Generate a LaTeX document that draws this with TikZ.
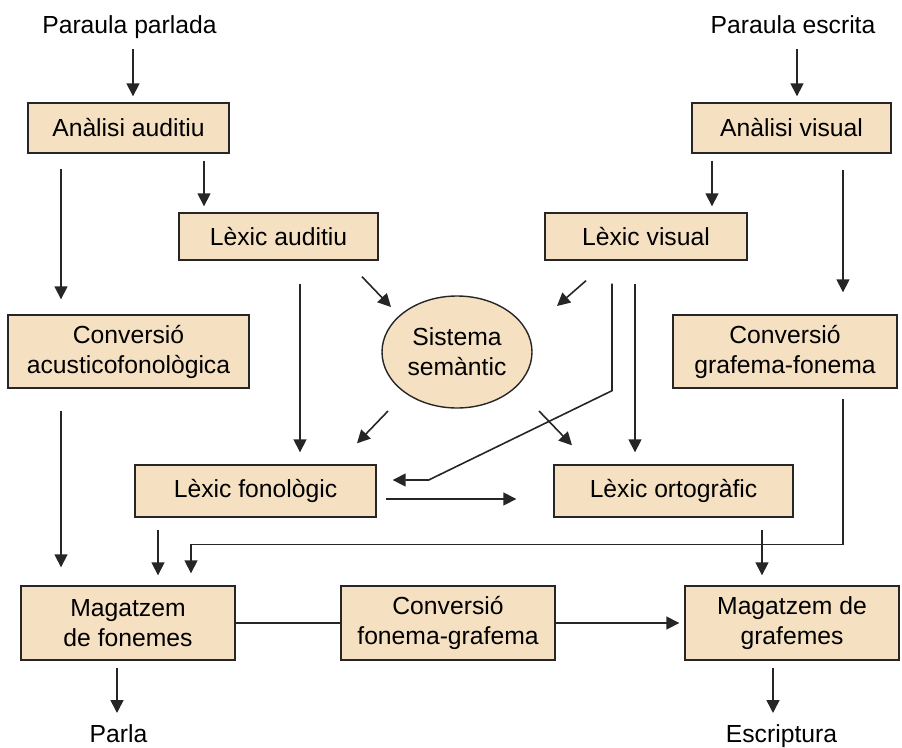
\documentclass[tikz,border=0pt]{standalone}
\usepackage{fontspec}
\setmainfont{Liberation Sans}
\usetikzlibrary{arrows.meta,calc,shapes.geometric}
\definecolor{boxfill}{HTML}{F5E1C2}
\definecolor{ink}{HTML}{262626}
\begin{document}
\begin{tikzpicture}[x=1pt,y=-1pt,
  font=\fontsize{24.7}{30}\selectfont,
  box/.style={draw=ink, line width=1.4pt, fill=boxfill, rectangle, inner sep=0pt, align=center},
  oval/.style={draw=ink, line width=1.4pt, fill=boxfill, ellipse, inner sep=0pt, align=center},
  arr/.style={draw=ink, line width=1.6pt, -{Triangle[length=13pt,width=13pt]}},
  ln/.style={draw=ink, line width=1.6pt},
  lbl/.style={anchor=base, inner sep=0pt}]
\useasboundingbox (0,0) rectangle (902,747);

% texts
\node[lbl] (pp) at (129.5,33) {Paraula parlada};
\node[lbl] (pe) at (793,33) {Paraula escrita};
\node[lbl] (parla) at (118.5,742) {Parla};
\node[lbl] (escr) at (781.5,742) {Escriptura};

% boxes
\node[box, minimum width=201pt, minimum height=50pt] (aa) at (128.5,128) {Anàlisi auditiu};
\node[box, minimum width=199pt, minimum height=50pt] (av) at (791.5,128) {Anàlisi visual};
\node[box, minimum width=199pt, minimum height=47pt] (la) at (278.5,236.5) {Lèxic auditiu};
\node[box, minimum width=202pt, minimum height=47pt] (lv) at (646,236.5) {Lèxic visual};
\node[box, minimum width=241pt, minimum height=73pt] (cac) at (128.5,351.5) {Conversió\\acusticofonològica};
\node[box, minimum width=224pt, minimum height=73pt] (cgf) at (785,351.5) {Conversió\\grafema-fonema};
\node[oval, minimum width=150pt, minimum height=112pt] (ss) at (457,352) {Sistema\\semàntic};
\node[box, minimum width=241pt, minimum height=52pt] (lf) at (255.5,491) {Lèxic fonològic};
\node[box, minimum width=239pt, minimum height=52pt] (lo) at (673.5,491) {Lèxic ortogràfic};
\node[box, minimum width=214pt, minimum height=74pt] (mf) at (128,623) {Magatzem\\de fonemes};
\node[box, minimum width=214pt, minimum height=74pt] (cfg) at (448,623) {Conversió\\fonema-grafema};
\node[box, minimum width=214pt, minimum height=74pt] (mg) at (792,623) {Magatzem de\\grafemes};

% connectors
\draw[arr] ($(pp.base)+(3.5,16)$) -- ($(aa.north)+(4.5,-6)$);
\draw[arr] ($(aa.south)+(75.5,7)$) -- ($(la.north)+(-74.5,-6)$);
\draw[arr] ($(aa.south)+(-67.5,15)$) -- ($(cac.north)+(-67.5,-15)$);
\draw[arr] ($(pe.base)+(4,16)$) -- ($(av.north)+(5.5,-6)$);
\draw[arr] ($(av.south)+(-79.5,7)$) -- ($(lv.north)+(66,-6)$);
\draw[arr] ($(av.south)+(51.5,16)$) -- ($(cgf.north)+(58,-22)$);
\draw[arr] ($(la.south)+(83.5,16)$) -- ($(ss.center)+(-66,-45)$);
\draw[arr] ($(lv.south)+(-60,20)$) -- ($(ss.center)+(100,-46)$);
\draw[arr] ($(ss.center)+(-69,59)$) -- ($(lf.north)+(101.5,-21)$);
\draw[arr] ($(ss.center)+(82,59)$) -- ($(lo.north)+(-101.5,-19)$);
\draw[arr] ($(la.south)+(21.5,23)$) -- ($(lf.north)+(44.5,-12)$);
\draw[arr] ($(lv.south)+(-34,23)$) -- ($(lv.south)+(-34,130)$) -- ($(lf.east)+(52,-11)$) -- ($(lf.east)+(16,-11)$);
\draw[arr] ($(lv.south)+(-11,23)$) -- ($(lo.north)+(-38.5,-12)$);
\draw[arr] ($(lf.east)+(9,8)$) -- ($(lo.west)+(-37,8)$);
\draw[arr] ($(cac.south)+(-67.5,22)$) -- ($(mf.north)+(-67,-18)$);
\draw[arr] ($(lf.south)+(-97.5,12)$) -- ($(mf.north)+(30,-10)$);
\draw[arr] ($(cgf.south)+(58,10)$) |- ($(mf.north)+(63,-41)$) -- ($(mf.north)+(63,-12)$);
\draw[arr] ($(lo.south)+(88.5,12)$) -- ($(mg.north)+(-30,-10)$);
\draw[ln] (mf.east) -- (cfg.west);
\draw[arr] (cfg.east) -- ($(mg.west)+(-5,0)$);
\draw[arr] ($(mf.south)+(-11,7)$) -- ($(parla.base)+(-1.5,-29)$);
\draw[arr] ($(mg.south)+(-19,7)$) -- ($(escr.base)+(-8.5,-29)$);
\end{tikzpicture}
\end{document}
